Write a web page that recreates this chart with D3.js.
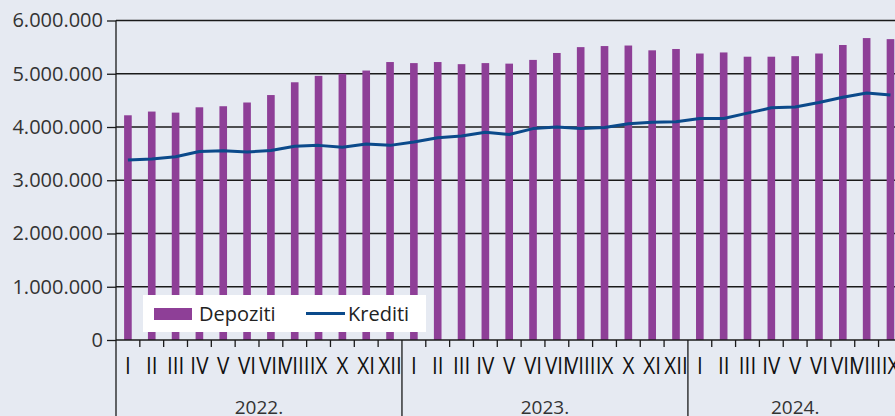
<!DOCTYPE html>
<html>
<head>
<meta charset="utf-8">
<script src="https://cdn.jsdelivr.net/npm/d3@7"></script>
<style>
  html, body { margin: 0; padding: 0; background: #e6eaf2; overflow: hidden; }
  text { font-family: 'Open Sans', sans-serif; }
</style>
</head>
<body>
<div class="chart-container"></div>
<script>
// data
const years = ['2022.', '2023.', '2024.'];
const monthNames = ['I', 'II', 'III', 'IV', 'V', 'VI', 'VII', 'VIII', 'IX', 'X', 'XI', 'XII'];
const monthsPerYear = [12, 12, 9];

const depoziti = [
  4220000, 4290000, 4270000, 4370000, 4390000, 4460000, 4600000, 4840000, 4960000, 5000000, 5060000, 5220000,
  5200000, 5220000, 5180000, 5200000, 5190000, 5260000, 5390000, 5500000, 5520000, 5530000, 5440000, 5465000,
  5380000, 5400000, 5320000, 5320000, 5330000, 5380000, 5540000, 5670000, 5650000
];
const krediti = [
  3380000, 3400000, 3440000, 3540000, 3555000, 3530000, 3560000, 3640000, 3655000, 3620000, 3680000, 3655000,
  3720000, 3800000, 3830000, 3900000, 3860000, 3970000, 4000000, 3970000, 3990000, 4060000, 4090000, 4100000,
  4160000, 4160000, 4260000, 4360000, 4375000, 4460000, 4560000, 4640000, 4600000
];
const yTicks = [0, 1000000, 2000000, 3000000, 4000000, 5000000, 6000000];

// build month list
const months = [];
years.forEach((y, yi) => {
  for (let m = 0; m < monthsPerYear[yi]; m++) {
    months.push({ key: y + monthNames[m], label: monthNames[m], year: y, yi: yi });
  }
});
months.forEach((d, i) => { d.dep = depoziti[i]; d.kred = krediti[i]; });

const width = 895;
const height = 416;
const plotLeft = 116;
const plotTop = 20.5;
const plotBottom = 340;
const step = 23.83;

const svg = d3.select('.chart-container')
  .append('svg')
  .attr('width', width)
  .attr('height', height);

// scales
const x = d3.scaleBand()
  .domain(months.map(d => d.key))
  .range([plotLeft, plotLeft + step * months.length])
  .paddingInner(0.68)
  .paddingOuter(0.34);

const y = d3.scaleLinear()
  .domain([0, 6000000])
  .range([plotBottom, plotTop]);

// gridlines
svg.append('g')
  .selectAll('line')
  .data(yTicks.slice(1))
  .enter().append('line')
  .attr('x1', plotLeft)
  .attr('x2', width)
  .attr('y1', d => y(d))
  .attr('y2', d => y(d))
  .attr('stroke', '#1a1a1a')
  .attr('stroke-width', 1.3);

// bars
svg.append('g')
  .selectAll('rect')
  .data(months)
  .enter().append('rect')
  .attr('x', d => x(d.key))
  .attr('y', d => y(d.dep))
  .attr('width', x.bandwidth())
  .attr('height', d => y(0) - y(d.dep))
  .attr('fill', '#8e3f97');

// line
svg.append('path')
  .datum(months)
  .attr('fill', 'none')
  .attr('stroke', '#0b4a8b')
  .attr('stroke-width', 3)
  .attr('stroke-linejoin', 'round')
  .attr('d', d3.line()
    .x(d => x(d.key) + x.bandwidth() / 2)
    .y(d => y(d.kred)));

// y axis
const yAxis = svg.append('g')
  .attr('transform', `translate(${plotLeft}, 0)`)
  .call(d3.axisLeft(y)
    .tickValues(yTicks)
    .tickSize(9)
    .tickPadding(4)
    .tickFormat(d => d3.format(',')(d).replace(/,/g, '.')));
yAxis.select('.domain').remove();
yAxis.selectAll('line').attr('stroke', '#1a1a1a').attr('stroke-width', 1.3);
yAxis.selectAll('text')
  .style('font-size', '20px')
  .attr('fill', '#333');

svg.append('line')
  .attr('x1', plotLeft).attr('x2', plotLeft)
  .attr('y1', plotTop).attr('y2', height)
  .attr('stroke', '#1a1a1a')
  .attr('stroke-width', 1.3);

// x axis
svg.append('line')
  .attr('x1', plotLeft).attr('x2', width)
  .attr('y1', plotBottom).attr('y2', plotBottom)
  .attr('stroke', '#1a1a1a')
  .attr('stroke-width', 1.5);

// month ticks and year separators
const bounds = months.slice(1).map((d, i) => ({
  pos: x(d.key) - (x.step() - x.bandwidth()) / 2,
  yearStart: d.yi !== months[i].yi
}));
svg.append('g')
  .selectAll('line')
  .data(bounds)
  .enter().append('line')
  .attr('x1', d => d.pos)
  .attr('x2', d => d.pos)
  .attr('y1', plotBottom)
  .attr('y2', d => d.yearStart ? height : plotBottom + 7)
  .attr('stroke', '#1a1a1a')
  .attr('stroke-width', 1.3);

// month labels (narrowed, like the condensed face of the original)
svg.append('g')
  .selectAll('text')
  .data(months)
  .enter().append('text')
  .attr('transform', d => `translate(${x(d.key) + x.bandwidth() / 2}, 374) scale(0.86, 1)`)
  .attr('text-anchor', 'middle')
  .style('font-size', '24px')
  .attr('fill', '#111')
  .text(d => d.label);

// year labels
svg.append('g')
  .selectAll('text')
  .data(years)
  .enter().append('text')
  .attr('x', (d, i) => {
    const ms = months.filter(m => m.yi === i);
    return (x(ms[0].key) + x(ms[ms.length - 1].key) + x.bandwidth()) / 2;
  })
  .attr('y', 414)
  .attr('text-anchor', 'middle')
  .style('font-size', '19px')
  .attr('fill', '#333')
  .text(d => d);

// legend
const legend = svg.append('g');
legend.append('rect')
  .attr('x', 143).attr('y', 295)
  .attr('width', 283).attr('height', 37)
  .attr('fill', '#fff');
legend.append('rect')
  .attr('x', 154).attr('y', 308)
  .attr('width', 38).attr('height', 12)
  .attr('fill', '#8e3f97');
legend.append('text')
  .attr('x', 199).attr('y', 320.5)
  .style('font-size', '20px')
  .attr('fill', '#222')
  .text('Depoziti');
legend.append('line')
  .attr('x1', 306).attr('x2', 345)
  .attr('y1', 313.5).attr('y2', 313.5)
  .attr('stroke', '#0b4a8b')
  .attr('stroke-width', 3);
legend.append('text')
  .attr('x', 348).attr('y', 320.5)
  .style('font-size', '20px')
  .attr('fill', '#222')
  .text('Krediti');
</script>
</body>
</html>
